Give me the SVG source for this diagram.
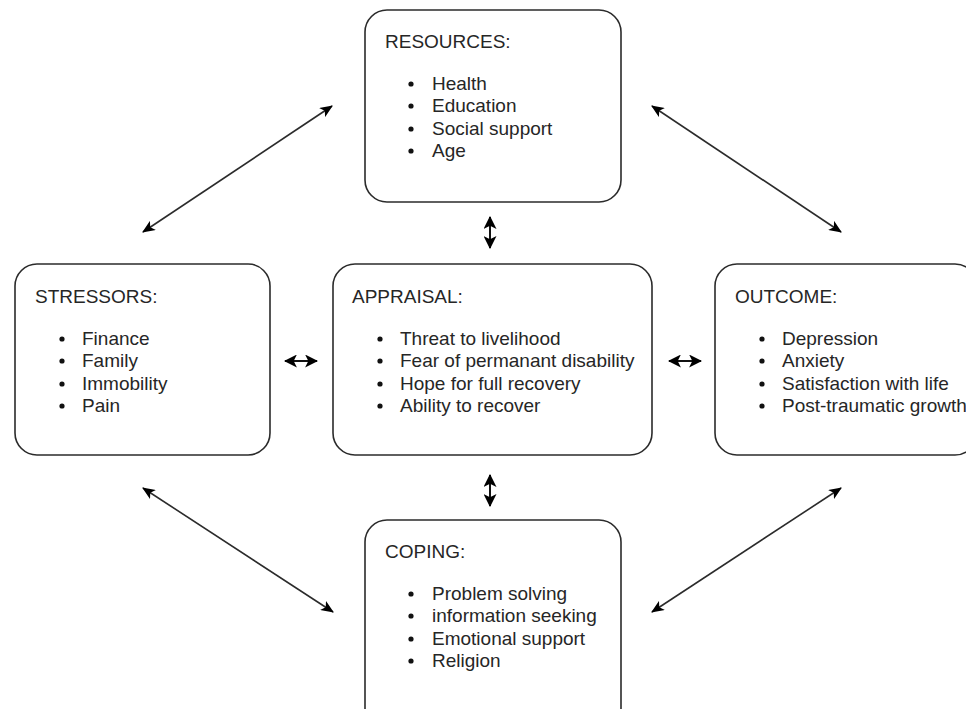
<svg xmlns="http://www.w3.org/2000/svg" width="966" height="709" viewBox="0 0 966 709">
<style>
.box{fill:#fff;stroke:#2b2b2b;stroke-width:1.6}
.t{font-family:"Liberation Sans",Arial,sans-serif;font-size:19px;fill:#262626}
.b{fill:#111}
.c{stroke:#2b2b2b;stroke-width:1.6;fill:none;marker-start:url(#ah);marker-end:url(#ah)}
.s{stroke:#111;stroke-width:2;fill:none;marker-start:url(#ah2);marker-end:url(#ah2)}
</style>
<defs>
<marker id="ah" viewBox="0 0 12 10" refX="11" refY="5" markerWidth="13" markerHeight="11" markerUnits="userSpaceOnUse" orient="auto-start-reverse">
<path d="M0,0 L12,5 L0,10 L3,5 z" fill="#000"/>
</marker>
<marker id="ah2" viewBox="0 0 12 12" refX="11" refY="6" markerWidth="13" markerHeight="13" markerUnits="userSpaceOnUse" orient="auto-start-reverse">
<path d="M0,0 L12,6 L0,12 L3,6 z" fill="#000"/>
</marker>
</defs>
<rect width="966" height="709" fill="#fff"/>
<g id="connectors">
<line class="c" x1="143" y1="232" x2="332" y2="106"/>
<line class="c" x1="652" y1="106" x2="841" y2="232"/>
<line class="c" x1="143" y1="488" x2="333" y2="612"/>
<line class="c" x1="652" y1="612" x2="841" y2="488"/>
<line class="s" x1="490" y1="217" x2="490" y2="248"/>
<line class="s" x1="490" y1="475" x2="490" y2="506"/>
<line class="s" x1="285" y1="361" x2="317" y2="361"/>
<line class="s" x1="669" y1="361" x2="701" y2="361"/>
</g>
<g id="resources">
<rect class="box" x="365" y="10" width="256" height="192" rx="22"/>
<text class="t" x="385" y="48">RESOURCES:</text>
<circle class="b" cx="411" cy="84" r="2.6"/><text class="t" x="432" y="90">Health</text>
<circle class="b" cx="411" cy="106" r="2.6"/><text class="t" x="432" y="112">Education</text>
<circle class="b" cx="411" cy="129" r="2.6"/><text class="t" x="432" y="135">Social support</text>
<circle class="b" cx="411" cy="151" r="2.6"/><text class="t" x="432" y="157">Age</text>
</g>
<g id="stressors">
<rect class="box" x="15" y="264" width="255" height="191" rx="22"/>
<text class="t" x="35" y="303">STRESSORS:</text>
<circle class="b" cx="62" cy="339" r="2.6"/><text class="t" x="82" y="345">Finance</text>
<circle class="b" cx="62" cy="361" r="2.6"/><text class="t" x="82" y="367">Family</text>
<circle class="b" cx="62" cy="384" r="2.6"/><text class="t" x="82" y="390">Immobility</text>
<circle class="b" cx="62" cy="406" r="2.6"/><text class="t" x="82" y="412">Pain</text>
</g>
<g id="appraisal">
<rect class="box" x="333" y="264" width="319" height="191" rx="22"/>
<text class="t" x="352" y="303">APPRAISAL:</text>
<circle class="b" cx="380" cy="339" r="2.6"/><text class="t" x="400" y="345">Threat to livelihood</text>
<circle class="b" cx="380" cy="361" r="2.6"/><text class="t" x="400" y="367">Fear of permanant disability</text>
<circle class="b" cx="380" cy="384" r="2.6"/><text class="t" x="400" y="390">Hope for full recovery</text>
<circle class="b" cx="380" cy="406" r="2.6"/><text class="t" x="400" y="412">Ability to recover</text>
</g>
<g id="outcome">
<rect class="box" x="715" y="264" width="262" height="191" rx="22"/>
<text class="t" x="735" y="303">OUTCOME:</text>
<circle class="b" cx="762" cy="339" r="2.6"/><text class="t" x="782" y="345">Depression</text>
<circle class="b" cx="762" cy="361" r="2.6"/><text class="t" x="782" y="367">Anxiety</text>
<circle class="b" cx="762" cy="384" r="2.6"/><text class="t" x="782" y="390">Satisfaction with life</text>
<circle class="b" cx="762" cy="406" r="2.6"/><text class="t" x="782" y="412">Post-traumatic growth</text>
</g>
<g id="coping">
<rect class="box" x="365" y="520" width="256" height="210" rx="22"/>
<text class="t" x="385" y="558">COPING:</text>
<circle class="b" cx="411" cy="594" r="2.6"/><text class="t" x="432" y="600">Problem solving</text>
<circle class="b" cx="411" cy="616" r="2.6"/><text class="t" x="432" y="622">information seeking</text>
<circle class="b" cx="411" cy="639" r="2.6"/><text class="t" x="432" y="645">Emotional support</text>
<circle class="b" cx="411" cy="661" r="2.6"/><text class="t" x="432" y="667">Religion</text>
</g>
</svg>
